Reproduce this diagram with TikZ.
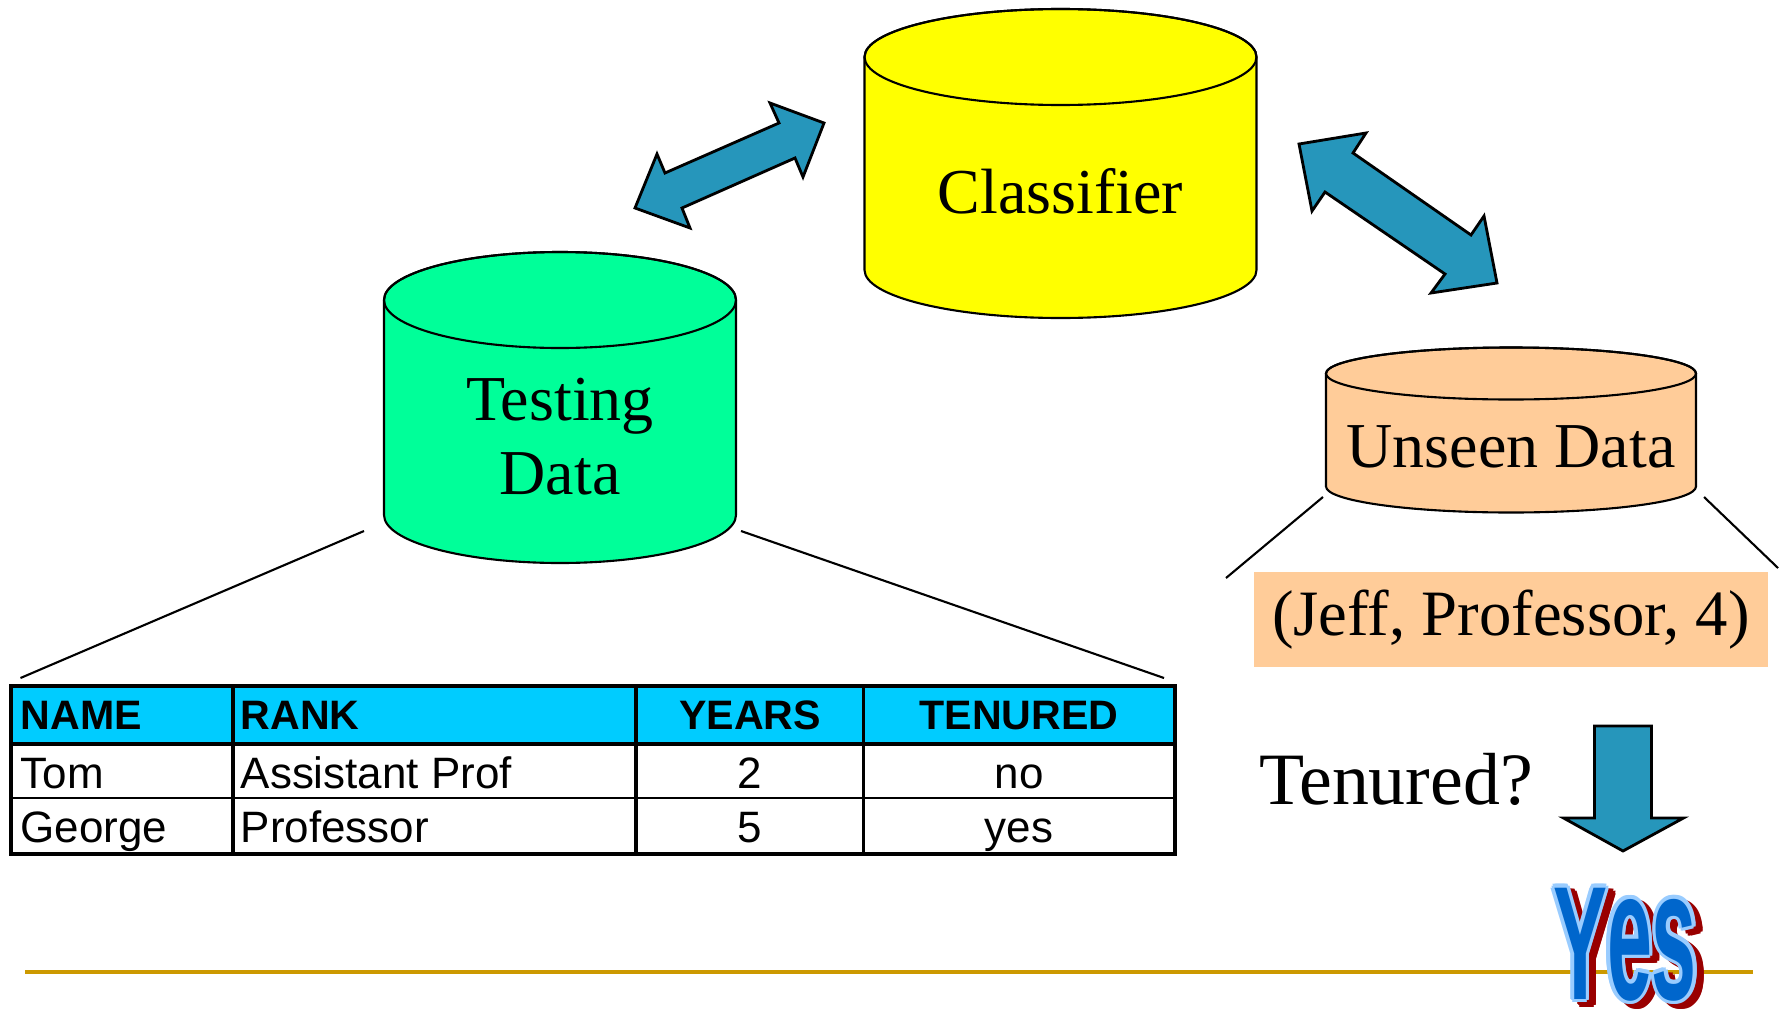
\documentclass[tikz,border=0pt]{standalone}
\usepackage{fontspec}
\setmainfont{Liberation Serif}
\setsansfont{Liberation Sans}
\usetikzlibrary{positioning}

\definecolor{classyellow}{RGB}{255,255,0}
\definecolor{testgreen}{RGB}{0,255,153}
\definecolor{unseenpeach}{RGB}{255,204,153}
\definecolor{headcyan}{RGB}{0,204,255}
\definecolor{arrowteal}{RGB}{38,150,187}
\definecolor{rulegold}{RGB}{204,153,0}
\definecolor{yesblue}{RGB}{0,102,204}
\definecolor{yesedge}{RGB}{153,204,255}
\definecolor{yesshade}{RGB}{153,0,0}

\tikzset{
  dbside/.style={draw=black, line width=0.6pt},
  fatarrow/.style={fill=arrowteal, draw=black, line width=0.8pt, line join=miter},
  dblabel/.style={font=\fontsize{18.2}{21}\selectfont, align=center, inner sep=0pt},
  cell/.style={font=\sffamily\fontsize{12.5}{14}\selectfont, inner sep=0pt, text height=9pt, text depth=2.6pt},
  headcell/.style={cell, font=\sffamily\bfseries\fontsize{11.7}{14}\selectfont},
  yesword/.style={font=\sffamily\bfseries\fontsize{46}{50}\selectfont, inner sep=0pt, anchor=base},
}
\newcommand{\yesglyphs}{\scalebox{0.5}[1]{Y}\scalebox{0.5}[1.15]{es}}

\begin{document}
\begin{tikzpicture}[x=0.01cm, y=0.01cm]
  \useasboundingbox (0,0) rectangle (1791,-1009);

  % classifier store
  \filldraw[dbside, fill=classyellow] (864.5,-57) -- (864.5,-270) arc[start angle=180, end angle=360, x radius=196, y radius=48] -- (1256.5,-57) arc[start angle=0, end angle=180, x radius=196, y radius=48] -- cycle;
  \draw[dbside] (1060.5,-57) ellipse [x radius=196, y radius=48];
  \node[dblabel] (classifier) at (1060.5,-191) {Classifier};

  % testing data store
  \filldraw[dbside, fill=testgreen] (384,-300) -- (384,-515) arc[start angle=180, end angle=360, x radius=176, y radius=48] -- (736,-300) arc[start angle=0, end angle=180, x radius=176, y radius=48] -- cycle;
  \draw[dbside] (560,-300) ellipse [x radius=176, y radius=48];
  \node[dblabel] (testing) at (560,-437) {Testing\\Data};

  % unseen data store
  \filldraw[dbside, fill=unseenpeach] (1326,-373.5) -- (1326,-486.5) arc[start angle=180, end angle=360, x radius=185, y radius=26] -- (1696,-373.5) arc[start angle=0, end angle=180, x radius=185, y radius=26] -- cycle;
  \draw[dbside] (1511,-373.5) ellipse [x radius=185, y radius=26];
  \node[dblabel] (unseen) at (1511,-447) {Unseen Data};

  % two-way arrows
  \draw[fatarrow] (635,-208) -- (657,-154) -- (665,-173) -- (779,-123) -- (770,-103) -- (824,-123) -- (803,-177) -- (795,-158) -- (682,-208) -- (690,-228) -- cycle;
  \draw[fatarrow] (1299,-144) -- (1366,-133) -- (1353,-153) -- (1471,-235) -- (1484,-216) -- (1497,-283) -- (1431,-293) -- (1445,-274) -- (1325,-192) -- (1312,-211) -- cycle;

  % table
  \fill[headcyan] (11,-686) rectangle (1175,-744);
  \draw[line width=1.4pt] (11,-744) -- (1175,-744);
  \draw[line width=0.8pt] (11,-798) -- (1175,-798);
  \foreach \x in {233,636,863.5}
    \draw[line width=1.1pt] (\x,-686) -- (\x,-854);
  \draw[line width=1.1pt] (11,-686) rectangle (1175,-854);

  \node[headcell, anchor=west] (hname)  at (20,-718)  {NAME};
  \node[headcell, anchor=west] (hrank)  at (240,-718) {RANK};
  \node[headcell] (hyears)  at (750,-718)  {YEARS};
  \node[headcell] (htenure) at (1019,-718) {TENURED};
  \node[cell, anchor=west] (tom)    at (20,-777)  {Tom};
  \node[cell, anchor=west] (tomrk)  at (240,-777) {Assistant Prof};
  \node[cell] (tomyr)  at (750,-777)  {2};
  \node[cell] (tomten) at (1019,-777) {no};
  \node[cell, anchor=west] (george) at (20,-831)  {George};
  \node[cell, anchor=west] (georgerk) at (240,-831) {Professor};
  \node[cell] (georgeyr)  at (750,-831)  {5};
  \node[cell] (georgeten) at (1019,-831) {yes};

  % fan-out lines to the table
  \coordinate (tdl) at (364,-531);
  \coordinate (tdr) at (741,-531);
  \coordinate (tbl) at (20.5,-678);
  \coordinate (tbr) at (1164,-678);
  \draw[line width=0.6pt] (tdl) -- (tbl);
  \draw[line width=0.6pt] (tdr) -- (tbr);

  % query record
  \node[fill=unseenpeach, minimum width=5.14cm, minimum height=0.95cm, font=\fontsize{18.4}{21}\selectfont] (query) at (1511,-619.5) {(Jeff, Professor, 4)};
  \coordinate (udl) at (1323,-497);
  \coordinate (udr) at (1704,-497);
  \coordinate (qul) at (1226,-578);
  \coordinate (qur) at (1778,-568);
  \draw[line width=0.6pt] (udl) -- (qul);
  \draw[line width=0.6pt] (udr) -- (qur);

  \node[font=\fontsize{21}{24}\selectfont, inner sep=0pt] (tenured) at (1396,-779) {Tenured?};
  \draw[fatarrow] (1594.5,-726) -- (1651.5,-726) -- (1651.5,-818) -- (1683.5,-818) -- (1623,-851) -- (1563.5,-818) -- (1594.5,-818) -- cycle;

  \draw[rulegold, line width=1pt] (25,-972) -- (1753,-972);

  % answer
  \foreach \a in {0,30,...,330}
    \node[yesword, text=yesshade] at ({1632+3.5*cos(\a)},{-1004+3.5*sin(\a)}) {\yesglyphs};
  \foreach \a in {0,30,...,330}
    \node[yesword, text=yesedge] at ({1625+3.5*cos(\a)},{-999+3.5*sin(\a)}) {\yesglyphs};
  \node[yesword, text=yesblue] (answer) at (1625,-999) {\yesglyphs};
\end{tikzpicture}
\end{document}
